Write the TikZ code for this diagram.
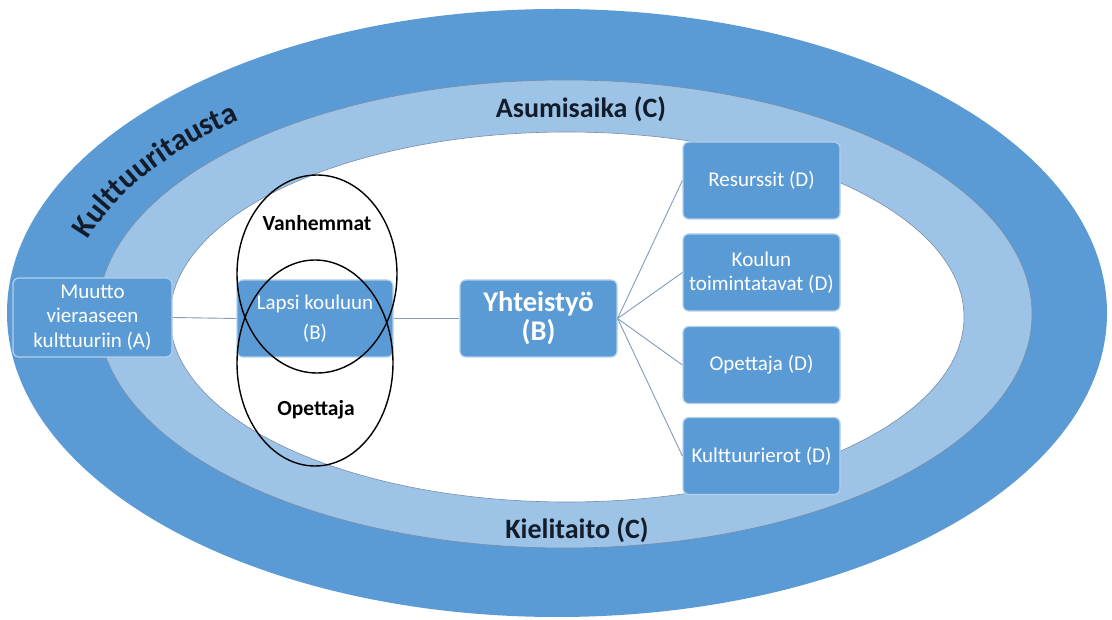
\documentclass[tikz,border=0pt]{standalone}
\usepackage{fontspec}
\setmainfont{Carlito}
\usetikzlibrary{decorations.text}
\definecolor{bandDark}{RGB}{91,155,213}
\definecolor{bandLight}{RGB}{157,195,230}
\definecolor{boxBlue}{RGB}{91,155,213}
\definecolor{boxEdge}{RGB}{180,208,236}
\definecolor{lineCol}{RGB}{130,155,190}
\definecolor{darkText}{RGB}{18,28,42}
\definecolor{ringEdge}{RGB}{120,140,165}
\begin{document}
\begin{tikzpicture}[x=1pt,y=1pt,
 box/.style={rectangle, rounded corners=6pt, fill=boxBlue, draw=boxEdge, line width=1.2pt, text=white, align=center, inner sep=2pt, minimum width=157pt, minimum height=77pt, font=\fontsize{21}{24.5}\selectfont},
 conn/.style={draw=lineCol, line width=0.9pt},
 band/.style={draw=ringEdge, line width=0.6pt},
 ringlabel/.style={text=darkText, font=\bfseries\fontsize{28}{30}\selectfont},
 venn/.style={draw=black, line width=1.4pt},
 vennlabel/.style={text=black, font=\bfseries\fontsize{21.5}{24}\selectfont}]
\useasboundingbox (0,0) rectangle (1112,619);
\fill[white] (0,0) rectangle (1112,619);
% rings
\fill[bandDark] (557,306) ellipse [x radius=550pt, y radius=304pt];
\filldraw[fill=bandLight, band] (565,305) ellipse [x radius=467pt, y radius=234pt];
\filldraw[fill=white, band] (567,302) ellipse [x radius=397pt, y radius=185pt];
% ring labels
\node[ringlabel] (asum) at (581,510) {Asumisaika (C)};
\node[ringlabel] (kiel) at (577,89) {Kielitaito (C)};
\path[decorate, decoration={text along path, text color=darkText,
  text={|\bfseries\fontsize{31}{31}\selectfont|Kulttuuritausta}, text align=center}]
  (74.4,349.8) arc [start angle=170, end angle=126, x radius=492pt, y radius=254pt];
% boxes
\node[box, minimum width=159pt, minimum height=79pt] (muutto) at (92.5,301.5) {Muutto\\vieraaseen\\kulttuuriin (A)};
\node[box, minimum width=156pt] (lapsi) at (315,300.5) {Lapsi kouluun\\[6pt](B)};
\node[box, font=\bfseries\fontsize{28.5}{29}\selectfont] (yht) at (538.5,300.5) {Yhteistyö\\(B)};
\node[box] (res) at (761.5,438.5) {Resurssit (D)};
\node[box] (kou) at (761.5,346.5) {Koulun\\toimintatavat (D)};
\node[box] (ope) at (761.5,254) {Opettaja (D)};
\node[box] (kul) at (761.5,163) {Kulttuurierot (D)};
% connectors
\draw[conn] (muutto.east) -- (lapsi.west);
\draw[conn] (lapsi.east) -- (yht.west);
\foreach \t in {res,kou,ope,kul} \draw[conn] (yht.east) -- (\t.west);
% venn ellipses
\draw[venn] (317,345) ellipse [x radius=80pt, y radius=99pt];
\draw[venn] (315,256) ellipse [x radius=78pt, y radius=103pt];
\node[vennlabel] (vanh) at (317,396) {Vanhemmat};
\node[vennlabel] (opet) at (316,209) {Opettaja};
\end{tikzpicture}
\end{document}
